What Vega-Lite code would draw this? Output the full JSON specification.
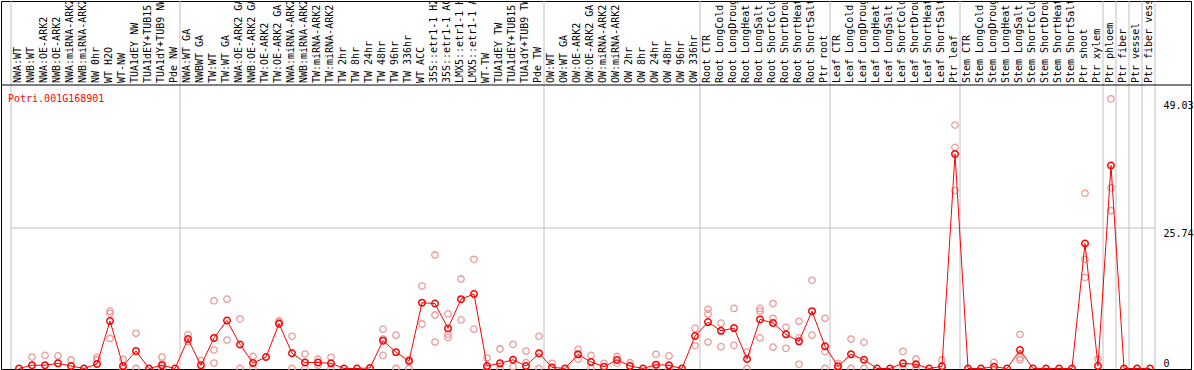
{
  "$schema": "https://vega.github.io/schema/vega-lite/v6.json",
  "autosize": {"type": "none"},
  "width": 1190,
  "height": 368,
  "padding": {"left": 1, "top": 1, "right": 3, "bottom": 1},
  "background": "white",
  "config": {"view": {"stroke": "#000000", "strokeWidth": 1}},
  "title": {"text": "Potri.001G168901", "anchor": "start", "frame": "group", "orient": "top", "offset": 0, "baseline": "top", "dx": 7, "dy": 103, "color": "#ff0000", "font": "DejaVu Sans Mono", "fontSize": 10, "fontWeight": "normal"},
  "resolve": {"axis": {"y": "independent"}},
  "datasets": {
    "samples": [
      {"i": 0, "s": "NWA:WT", "m": 0, "r": []},
      {"i": 1, "s": "NWB:WT", "m": 0.6, "r": [2.1]},
      {"i": 2, "s": "NWA:OE-ARK2", "m": 0.6, "r": [2.4]},
      {"i": 3, "s": "NWB:OE-ARK2", "m": 0.95, "r": [2.3]},
      {"i": 4, "s": "NWA:miRNA-ARK2", "m": 0.46, "r": [1.56]},
      {"i": 5, "s": "NWB:miRNA-ARK2", "m": 0, "r": []},
      {"i": 6, "s": "NW 0hr", "m": 0.82, "r": [2.05, 1.56]},
      {"i": 7, "s": "WT H2O", "m": 8.7, "r": [10.5, 10.1, 5.5]},
      {"i": 8, "s": "WT-NW", "m": 0.46, "r": [1.68, 0]},
      {"i": 9, "s": "TUA1dEY NW", "m": 3.2, "r": [6.45, 0]},
      {"i": 10, "s": "TUA1dEY+TUB15", "m": 0, "r": []},
      {"i": 11, "s": "TUA1dY+TUB9 NW", "m": 0.6, "r": [2.1, 0.9, 0]},
      {"i": 12, "s": "Pde NW", "m": 0, "r": []},
      {"i": 13, "s": "NWA:WT GA", "m": 5.4, "r": [6.2, 4.9]},
      {"i": 14, "s": "NWBWT GA", "m": 0.58, "r": [1.43]},
      {"i": 15, "s": "TW:WT", "m": 5.6, "r": [12.4, 3.4, 1.0]},
      {"i": 16, "s": "TW:WT GA", "m": 8.8, "r": [12.7, 5.2]},
      {"i": 17, "s": "NWA:OE-ARK2 GA", "m": 4.4, "r": [9.1, 0]},
      {"i": 18, "s": "NWB:OE-ARK2 GA", "m": 1.0, "r": [2.2, 0]},
      {"i": 19, "s": "TW:OE-ARK2", "m": 2.1, "r": []},
      {"i": 20, "s": "TW:OE-ARK2 GA", "m": 8.2, "r": [8.7, 8.4]},
      {"i": 21, "s": "NWA:miRNA-ARK2", "m": 2.8, "r": [5.9, 0]},
      {"i": 22, "s": "NWB:miRNA-ARK2", "m": 1.1, "r": [2.65, 0]},
      {"i": 23, "s": "TW:miRNA-ARK2", "m": 1.1, "r": [1.7, 0.6]},
      {"i": 24, "s": "TW:miRNA-ARK2", "m": 0.95, "r": [2.05, 0]},
      {"i": 25, "s": "TW 2hr", "m": 0, "r": []},
      {"i": 26, "s": "TW 8hr", "m": 0, "r": []},
      {"i": 27, "s": "TW 24hr", "m": 0.1, "r": []},
      {"i": 28, "s": "TW 48hr", "m": 5.1, "r": [7.2, 5.4, 2.4]},
      {"i": 29, "s": "TW 96hr", "m": 3.0, "r": [6.1, 0]},
      {"i": 30, "s": "TW 336hr", "m": 1.37, "r": [1.6, 0]},
      {"i": 31, "s": "WT ACC", "m": 12.06, "r": [15.1, 8.15]},
      {"i": 32, "s": "35S::etr1-1 H2O", "m": 11.9, "r": [20.8, 9.8, 4.85]},
      {"i": 33, "s": "35S::etr1-1 ACC", "m": 7.35, "r": [10.0, 6.26, 5.7]},
      {"i": 34, "s": "LMX5::etr1-1 H2O", "m": 12.7, "r": [16.4, 8.9]},
      {"i": 35, "s": "LMX5::etr1-1 ACC", "m": 13.65, "r": [20.0, 7.2]},
      {"i": 36, "s": "WT-TW", "m": 0.46, "r": [1.92, 0]},
      {"i": 37, "s": "TUA1dEY TW", "m": 0.95, "r": [3.57, 0]},
      {"i": 38, "s": "TUA1dEY+TUB15", "m": 1.6, "r": [4.43, 0.33]},
      {"i": 39, "s": "TUA1dY+TUB9 TW", "m": 0.46, "r": [3.2, 1.06]},
      {"i": 40, "s": "Pde TW", "m": 2.78, "r": [5.9, 0]},
      {"i": 41, "s": "OW:WT", "m": 0.2, "r": [0.95]},
      {"i": 42, "s": "OW:WT GA", "m": 0, "r": []},
      {"i": 43, "s": "OW:OE-ARK2", "m": 2.6, "r": [3.5, 1.7]},
      {"i": 44, "s": "OW:OE-ARK2 GA", "m": 1.2, "r": [2.4, 0]},
      {"i": 45, "s": "OW:miRNA-ARK2", "m": 0.33, "r": [0.95]},
      {"i": 46, "s": "OW:miRNA-ARK2", "m": 1.56, "r": [2.2, 0.95]},
      {"i": 47, "s": "OW 2hr", "m": 0.46, "r": [1.06]},
      {"i": 48, "s": "OW 8hr", "m": 0, "r": []},
      {"i": 49, "s": "OW 24hr", "m": 0.7, "r": [2.6, 0]},
      {"i": 50, "s": "OW 48hr", "m": 0.58, "r": [2.3, 0]},
      {"i": 51, "s": "OW 96hr", "m": 0, "r": []},
      {"i": 52, "s": "OW 336hr", "m": 5.95, "r": [7.35, 4.2]},
      {"i": 53, "s": "Root CTR", "m": 8.5, "r": [10.85, 10.0, 4.85]},
      {"i": 54, "s": "Root LongCold", "m": 6.9, "r": [8.3, 4.0]},
      {"i": 55, "s": "Root LongDrought", "m": 7.4, "r": [11.0, 4.25]},
      {"i": 56, "s": "Root LongHeat", "m": 1.74, "r": [3.0, 0]},
      {"i": 57, "s": "Root LongSalt", "m": 9.0, "r": [11.0, 10.5, 5.6]},
      {"i": 58, "s": "Root ShortCold", "m": 8.34, "r": [11.9, 9.2, 3.9]},
      {"i": 59, "s": "Root ShortDrought", "m": 6.26, "r": [7.55, 3.7]},
      {"i": 60, "s": "Root ShortHeat", "m": 4.98, "r": [8.65, 5.6, 0.77]},
      {"i": 61, "s": "Root ShortSalt", "m": 10.5, "r": [16.15, 6.1]},
      {"i": 62, "s": "Ptr root", "m": 4.07, "r": [9.2, 3.1, 0]},
      {"i": 63, "s": "Leaf CTR", "m": 0.4, "r": [0.95, 0]},
      {"i": 64, "s": "Leaf LongCold", "m": 2.6, "r": [5.4, 0]},
      {"i": 65, "s": "Leaf LongDrought", "m": 1.6, "r": [4.8, 0]},
      {"i": 66, "s": "Leaf LongHeat", "m": 0, "r": []},
      {"i": 67, "s": "Leaf LongSalt", "m": 0, "r": []},
      {"i": 68, "s": "Leaf ShortCold", "m": 0.95, "r": [3.15, 0]},
      {"i": 69, "s": "Leaf ShortDrought", "m": 0.77, "r": [1.74, 0]},
      {"i": 70, "s": "Leaf ShortHeat", "m": 0, "r": []},
      {"i": 71, "s": "Leaf ShortSalt", "m": 0.4, "r": [1.56]},
      {"i": 72, "s": "Ptr leaf", "m": 39.3, "r": [44.6, 40.5, 32.6]},
      {"i": 73, "s": "Stem CTR", "m": 0, "r": []},
      {"i": 74, "s": "Stem LongCold", "m": 0, "r": []},
      {"i": 75, "s": "Stem LongDrought", "m": 0.33, "r": [1.13]},
      {"i": 76, "s": "Stem LongHeat", "m": 0, "r": []},
      {"i": 77, "s": "Stem LongSalt", "m": 3.39, "r": [6.26, 2.0, 1.56]},
      {"i": 78, "s": "Stem ShortCold", "m": 0, "r": []},
      {"i": 79, "s": "Stem ShortDrought", "m": 0, "r": []},
      {"i": 80, "s": "Stem ShortHeat", "m": 0, "r": []},
      {"i": 81, "s": "Stem ShortSalt", "m": 0, "r": []},
      {"i": 82, "s": "Ptr shoot", "m": 22.9, "r": [32.1, 20.0, 16.7]},
      {"i": 83, "s": "Ptr xylem", "m": 0.46, "r": [1.68]},
      {"i": 84, "s": "Ptr phloem", "m": 37.2, "r": [49.4, 33.1, 28.9]},
      {"i": 85, "s": "Ptr fiber", "m": 0, "r": []},
      {"i": 86, "s": "Ptr vessel", "m": 0, "r": []},
      {"i": 87, "s": "Ptr fiber vessel", "m": 0, "r": []}
    ],
    "bounds": [
      {"b": -0.615}, {"b": 12.385}, {"b": 40.385}, {"b": 52.385}, {"b": 62.385},
      {"b": 72.385}, {"b": 83.385}, {"b": 84.385}, {"b": 85.385}, {"b": 86.385}, {"b": 87.385}
    ],
    "ticks": [{"v": 0}, {"v": 25.74}, {"v": 49.03}]
  },
  "layer": [
    {
      "data": {"name": "ticks"},
      "mark": {"type": "point", "opacity": 0},
      "encoding": {
        "x": {"datum": 0, "type": "quantitative", "axis": null, "scale": {"domain": [-1.3846, 90.1538], "nice": false, "zero": false}},
        "y": {"field": "v", "type": "quantitative", "scale": {"domain": [-0.092, 67.33], "nice": false, "zero": false},
          "axis": {"orient": "right", "offset": -36, "values": [0, 25.74, 49.03], "domain": false, "ticks": false, "grid": false, "title": null,
            "labelAlign": "left", "labelPadding": 8, "labelFont": "DejaVu Sans Mono", "labelFontSize": 10, "labelColor": "#000000",
            "labelBaseline": {"condition": {"test": "datum.value === 0", "value": "bottom"}, "value": "top"},
            "labelExpr": "datum.value === 0 ? '0' : format(datum.value, '.2f')"}}
      }
    },
    {
      "data": {"name": "bounds"},
      "mark": {"type": "rule", "color": "#c0c0c0", "strokeWidth": 1},
      "encoding": {
        "x": {"field": "b", "type": "quantitative", "axis": null}
      }
    },
    {
      "data": {"values": [{"g": 25.74, "a": -0.615, "z": 87.385}]},
      "mark": {"type": "rule", "color": "#c0c0c0", "strokeWidth": 1},
      "encoding": {
        "x": {"field": "a", "type": "quantitative", "axis": null},
        "x2": {"field": "z"},
        "y": {"field": "g", "type": "quantitative", "axis": null}
      }
    },
    {
      "data": {"values": [{"sep": 51.94}]},
      "mark": {"type": "rule", "color": "#000000", "strokeWidth": 1},
      "encoding": {
        "y": {"field": "sep", "type": "quantitative", "axis": null}
      }
    },
    {
      "data": {"name": "samples"},
      "transform": [{"flatten": ["r"]}],
      "mark": {"type": "point", "shape": "circle", "filled": false, "color": "#ec9a9a", "size": 42, "strokeWidth": 1.3, "opacity": 1},
      "encoding": {
        "x": {"field": "i", "type": "quantitative", "axis": null},
        "y": {"field": "r", "type": "quantitative", "axis": null}
      }
    },
    {
      "data": {"name": "samples"},
      "mark": {"type": "line", "color": "#ff0000", "strokeWidth": 1},
      "encoding": {
        "x": {"field": "i", "type": "quantitative", "axis": null},
        "y": {"field": "m", "type": "quantitative", "axis": null}
      }
    },
    {
      "data": {"name": "samples"},
      "mark": {"type": "point", "shape": "circle", "filled": false, "color": "#ff0000", "size": 42, "strokeWidth": 1.5, "opacity": 1},
      "encoding": {
        "x": {"field": "i", "type": "quantitative", "axis": null},
        "y": {"field": "m", "type": "quantitative", "axis": null}
      }
    },
    {
      "data": {"name": "samples"},
      "mark": {"type": "text", "angle": 270, "align": "left", "baseline": "middle", "dy": -1, "font": "DejaVu Sans Mono", "fontSize": 10, "color": "#000000", "clip": true},
      "encoding": {
        "x": {"field": "i", "type": "quantitative", "axis": null},
        "y": {"datum": 52.3, "type": "quantitative", "axis": null},
        "text": {"field": "s"}
      }
    }
  ]
}
